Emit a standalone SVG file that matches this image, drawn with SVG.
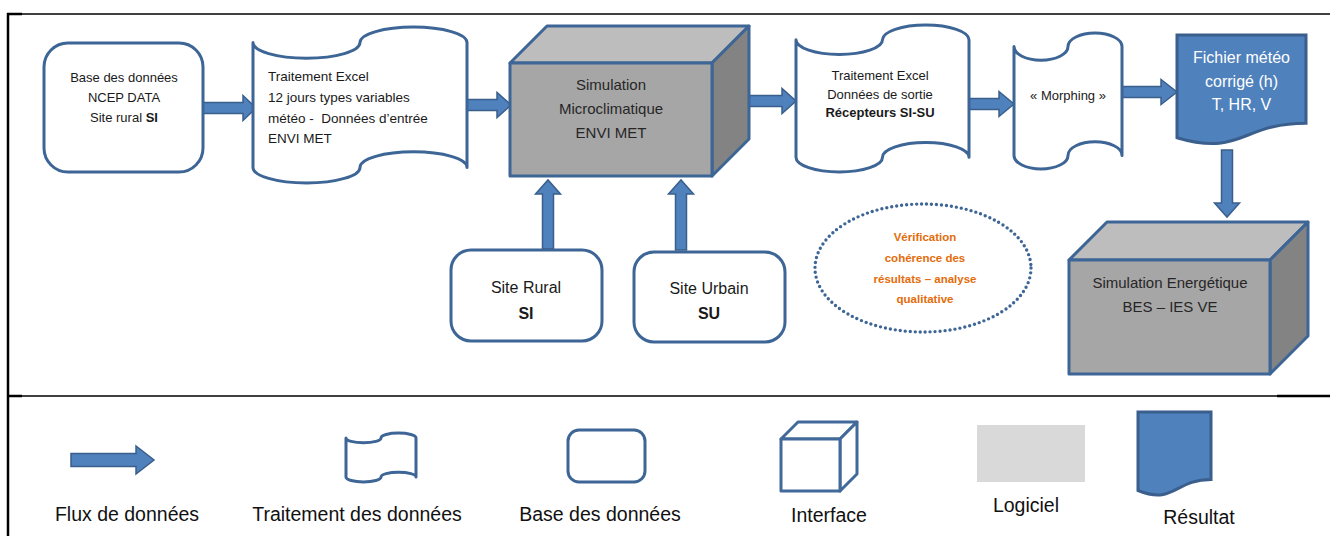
<svg xmlns="http://www.w3.org/2000/svg" width="1330" height="536" viewBox="0 0 1330 536">
<style>
.frame{stroke:#000;fill:none}
.n{fill:#fff;stroke:#3D6595;stroke-width:3;stroke-linejoin:round}
.doc{fill:#4F81BD;stroke:#3A5F8C;stroke-width:3;stroke-linejoin:miter}
.ar{fill:#4F81BD;stroke:#3A5F8C;stroke-width:1.5}
.cf{fill:#A6A6A6;stroke:#3D6595;stroke-width:3;stroke-linejoin:round}
.ct{fill:#BDBDBD;stroke:#3D6595;stroke-width:3;stroke-linejoin:round}
.cs{fill:#838383;stroke:#3D6595;stroke-width:3;stroke-linejoin:round}
.lc{fill:#fff;stroke:#41699A;stroke-width:3;stroke-linejoin:round}
text{font-family:"Liberation Sans",Arial,sans-serif;fill:#1a1a1a}
.s13{font-size:13px}
.s135{font-size:13.5px}
.s15{font-size:15px;fill:#262626}
.s16{font-size:16px}
.w{font-size:16px;fill:#fff}
.o{font-size:11.5px;font-weight:bold;fill:#E46C0A}
.lg{font-size:19.5px;fill:#111}
.c{text-anchor:middle}
</style>

<g id="frame">
  <line class="frame" x1="7" y1="14" x2="1330" y2="14" stroke-width="1.5"/>
  <line class="frame" x1="7" y1="14" x2="22" y2="14" stroke-width="2.5"/>
  <line class="frame" x1="8" y1="13" x2="8" y2="536" stroke-width="2.5"/>
  <line class="frame" x1="8" y1="396" x2="1330" y2="396" stroke-width="1.5"/>
  <line class="frame" x1="8" y1="396" x2="22" y2="396" stroke-width="2.5"/>
  <line class="frame" x1="1277" y1="396" x2="1330" y2="396" stroke-width="2.5"/>
</g>

<g id="connectors">
  <path class="ar" d="M203,102.5 H243 V95.5 L256,108 L243,120.5 V113.5 H203 Z"/>
  <path class="ar" d="M467,99.5 H497 V92.5 L511,105 L497,117.5 V110.5 H467 Z"/>
  <path class="ar" d="M749,95.5 H782 V88.5 L796,101 L782,113.5 V106.5 H749 Z"/>
  <path class="ar" d="M966,98.5 H999 V91.5 L1014,104 L999,116.5 V109.5 H966 Z"/>
  <path class="ar" d="M1122,86.5 H1161 V79.5 L1177,92 L1161,104.5 V97.5 H1122 Z"/>
  <path class="ar" d="M1221.5,150 V203 H1214.5 L1227,217 L1239.5,203 H1232.5 V150 Z"/>
  <path class="ar" d="M542.5,249 V194 H535.5 L548,180 L560.5,194 H553.5 V249 Z"/>
  <path class="ar" d="M675.5,250 V194 H668.5 L681,180 L693.5,194 H686.5 V250 Z"/>
</g>

<g id="base-donnees">
  <rect class="n" x="44" y="43" width="159" height="129" rx="24"/>
  <text class="s13 c" x="124" y="81.5">Base des données</text>
  <text class="s13 c" x="124" y="101.5">NCEP DATA</text>
  <text class="s13 c" x="124" y="121.5">Site rural <tspan font-weight="bold">SI</tspan></text>
</g>

<g id="traitement-entree">
  <path class="n" d="M253,42.6 A53.5,15.6 0 0 0 360,42.6 A53.5,15.6 0 0 1 467,42.6 L467,167.4 A53.5,15.6 0 0 0 360,167.4 A53.5,15.6 0 0 1 253,167.4 Z"/>
  <text class="s135" x="268" y="80.5">Traitement Excel</text>
  <text class="s135" x="268" y="101.5">12 jours types variables</text>
  <text class="s135" x="268" y="122.5" style="white-space:pre">météo -  Données d’entrée</text>
  <text class="s135" x="268" y="142.5">ENVI MET</text>
</g>

<g id="envimet">
  <polygon class="ct" points="510,63 547,26 749,26 712,63"/>
  <polygon class="cs" points="712,63 749,26 749,139 712,176"/>
  <polygon class="cf" points="510,63 712,63 712,176 510,176"/>
  <text class="s15 c" x="611" y="90">Simulation</text>
  <text class="s15 c" x="611" y="114">Microclimatique</text>
  <text class="s15 c" x="611" y="138">ENVI MET</text>
</g>

<g id="traitement-sortie">
  <path class="n" d="M796,39.7 A43.25,14.7 0 0 0 882.5,39.7 A43.25,14.7 0 0 1 969,39.7 L969,157.3 A43.25,14.7 0 0 0 882.5,157.3 A43.25,14.7 0 0 1 796,157.3 Z"/>
  <text class="s13 c" x="880" y="79.5">Traitement Excel</text>
  <text class="s13 c" x="880" y="98.5">Données de sortie</text>
  <text class="s13 c" x="880" y="116.5" font-weight="bold">Récepteurs SI-SU</text>
</g>

<g id="morphing">
  <path class="n" d="M1014,46.6 A27,13.6 0 0 0 1068,46.6 A27,13.6 0 0 1 1122,46.6 L1122,155.4 A27,13.6 0 0 0 1068,155.4 A27,13.6 0 0 1 1014,155.4 Z"/>
  <text class="s13 c" x="1068" y="99.5">« Morphing »</text>
</g>

<g id="fichier-meteo">
  <path class="doc" d="M1177,35 H1306 V123.2 C1241.5,123.2 1241.5,156.8 1177,137.7 Z"/>
  <text class="w c" x="1241.5" y="63">Fichier météo</text>
  <text class="w c" x="1241.5" y="87">corrigé (h)</text>
  <text class="w c" x="1241.5" y="110">T, HR, V</text>
</g>

<g id="site-rural">
  <rect class="n" x="451" y="250" width="151" height="91" rx="20"/>
  <text class="s16 c" x="526" y="292.5">Site Rural</text>
  <text class="s16 c" x="526" y="318.5" font-weight="bold">SI</text>
</g>

<g id="site-urbain">
  <rect class="n" x="634" y="252" width="151" height="90" rx="20"/>
  <text class="s16 c" x="709" y="293.5">Site Urbain</text>
  <text class="s16 c" x="709" y="318.5" font-weight="bold">SU</text>
</g>

<g id="verification">
  <ellipse cx="923" cy="268" rx="108" ry="64" fill="none" stroke="#3D6595" stroke-width="3.4" stroke-linecap="round" stroke-dasharray="0 5"/>
  <text class="o c" x="925" y="241">Vérification</text>
  <text class="o c" x="925" y="262">cohérence des</text>
  <text class="o c" x="925" y="283">résultats – analyse</text>
  <text class="o c" x="925" y="303">qualitative</text>
</g>

<g id="simulation-energetique">
  <polygon class="ct" points="1069,260 1107,222 1308,222 1270,260"/>
  <polygon class="cs" points="1270,260 1308,222 1308,336 1270,374"/>
  <polygon class="cf" points="1069,260 1270,260 1270,374 1069,374"/>
  <text class="s15 c" x="1170" y="288">Simulation Energétique</text>
  <text class="s15 c" x="1170" y="312">BES – IES VE</text>
</g>

<g id="legend-flux">
  <path class="ar" d="M71,453.5 H136 V446 L154,460 L136,474 V466.5 H71 Z"/>
  <text class="lg c" x="127" y="521">Flux de données</text>
</g>
<g id="legend-traitement">
  <path class="n" d="M346,437.9 A17.5,4.9 0 0 0 381,437.9 A17.5,4.9 0 0 1 416,437.9 L416,477.1 A17.5,4.9 0 0 0 381,477.1 A17.5,4.9 0 0 1 346,477.1 Z"/>
  <text class="lg c" x="357" y="521">Traitement des données</text>
</g>
<g id="legend-base">
  <rect class="n" x="568" y="430" width="77" height="52" rx="11"/>
  <text class="lg c" x="600" y="521">Base des données</text>
</g>
<g id="legend-interface">
  <polygon class="lc" points="781,439 798,422 857,422 840,439"/>
  <polygon class="lc" points="840,439 857,422 857,474 840,491"/>
  <polygon class="lc" points="781,439 840,439 840,491 781,491"/>
  <text class="lg c" x="829" y="522">Interface</text>
</g>
<g id="legend-logiciel">
  <rect x="977" y="425" width="108" height="57" fill="#D9D9D9"/>
  <text class="lg c" x="1026" y="512">Logiciel</text>
</g>
<g id="legend-resultat">
  <path class="doc" d="M1138,412 H1211 V479.4 C1174.5,479.4 1174.5,505 1138,490.5 Z"/>
  <text class="lg c" x="1199" y="524">Résultat</text>
</g>
</svg>
